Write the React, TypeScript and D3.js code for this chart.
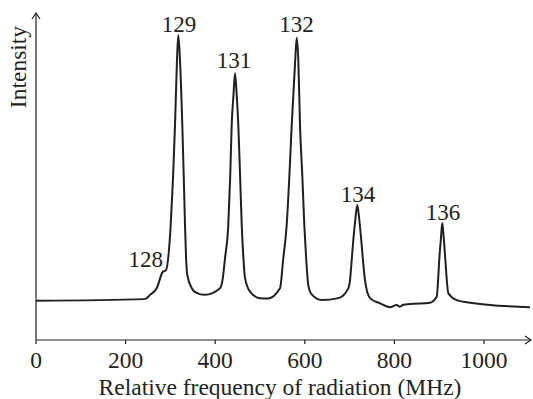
import React from "react";
import * as d3 from "d3";

// Spectrum samples: frequency (MHz) and intensity (arbitrary units, 0-100)
const freq = [
  0, 243, 254.5, 269.4, 282.8, 290.2, 300.7, 306.0, 310.3, 314.7, 317.6, 321.4, 326.6, 329.8, 332.6, 335.0,
  337.7, 347.5, 357, 377.2,
  410.7, 416.3, 421.9, 429.2, 433.5, 436.8, 440.8, 444.2, 448, 451.6, 455.6, 459.2, 463, 466.5, 477.7,
  500, 517.9,
  544.6, 552, 559.6, 565.5, 570.8, 578.6, 581.9, 585.5, 589.3, 594.5, 598.9, 603, 607.8, 615, 637.7, 674.8,
  697.1, 700.9, 705, 708.3, 712.7, 717.2, 721.7, 726, 729.5, 734.4, 745.5,
  767.9, 790.2, 805.1, 812.5, 818.5, 834.8, 879.5,
  894.4, 898.4, 900.3, 903.6, 905.3, 906.9, 908.5, 910.5, 913.5, 915.8, 920.3, 939.1, 968.8, 1102.7,
];
const intensity = [
  12.0, 12.5, 13.8, 15.8, 20.8, 21.4, 35.2, 50.0, 65.7, 85.6, 93.3, 85.6, 65.7, 50.0, 35.2, 25.0,
  19.9, 15.9, 14.5, 13.8,
  15.8, 18.3, 25.0, 35.2, 50.0, 65.7, 74.9, 81.6, 74.9, 65.7, 50.0, 35.2, 25.0, 19.0, 14.8,
  12.8, 12.7,
  15.8, 25.0, 35.2, 50.0, 65.7, 85.6, 92.4, 85.6, 65.7, 50.0, 35.2, 25.0, 16.8, 14.0, 12.2, 12.8,
  15.8, 18.3, 25.0, 30.6, 36.7, 41.3, 36.7, 30.6, 25.0, 18.3, 12.8,
  11.2, 10.0, 10.7, 10.2, 10.7, 11.0, 11.4,
  13.2, 20.4, 25.0, 30.6, 33.8, 35.7, 33.8, 30.6, 25.0, 20.4, 14.3, 12.2, 11.4, 10.0,
];

// Peak labels (mass numbers) and where they sit
const peakLabels = ["128", "129", "131", "132", "134", "136"];
const peakLabelFreq = [245, 319, 442, 581.5, 718.8, 908.5];
const peakLabelIntensity = [22.4, 94.3, 83.1, 94.3, 42.3, 36.7];

const xTicks = [0, 200, 400, 600, 800, 1000];
const xTitle = "Relative frequency of radiation (MHz)";
const yTitle = "Intensity";

export default function App() {
  const W = 533;
  const H = 399;
  const x = d3.scaleLinear().domain([0, 1000]).range([36, 484]);
  const y = d3.scaleLinear().domain([0, 100]).range([340, 13]);
  const axisY = y(0);
  const axisX = x(0);
  const xEnd = 531;
  const yTop = 13;

  const pts = freq.map((f, i) => [f, intensity[i]] as [number, number]);
  const line = d3
    .line<[number, number]>()
    .x((d) => x(d[0]))
    .y((d) => y(d[1]))
    .curve(d3.curveMonotoneX);

  const font = "'Liberation Serif', 'Times New Roman', serif";
  const ink = "#231f20";

  return (
    <svg
      width={W}
      height={H}
      style={{ position: "absolute", left: 0, top: 0, background: "#fff" }}
      fontFamily={font}
    >
      <rect width={W} height={H} fill="#fff" />
      {/* axes */}
      <line x1={axisX} y1={axisY} x2={xEnd} y2={axisY} stroke={ink} strokeWidth={1.2} />
      <polyline
        points={`${xEnd - 6},${axisY - 4} ${xEnd},${axisY} ${xEnd - 6},${axisY + 4}`}
        fill="none"
        stroke={ink}
        strokeWidth={1.2}
      />
      <line x1={axisX} y1={axisY} x2={axisX} y2={yTop} stroke={ink} strokeWidth={1.2} />
      <polyline
        points={`${axisX - 4},${yTop + 6} ${axisX},${yTop} ${axisX + 4},${yTop + 6}`}
        fill="none"
        stroke={ink}
        strokeWidth={1.2}
      />
      {xTicks.map((t) => (
        <g key={t}>
          <line x1={x(t)} x2={x(t)} y1={axisY} y2={axisY + 4} stroke={ink} strokeWidth={1.2} />
          <text x={x(t)} y={368} textAnchor="middle" fontSize={23.5} fill={ink}>
            {t}
          </text>
        </g>
      ))}
      <text x={280} y={395} textAnchor="middle" fontSize={23.5} fill={ink}>
        {xTitle}
      </text>
      <text
        transform={`translate(26,67) rotate(-90)`}
        textAnchor="middle"
        fontSize={23.5}
        fill={ink}
      >
        {yTitle}
      </text>
      {/* spectrum */}
      <path d={line(pts) || ""} fill="none" stroke={ink} strokeWidth={2} strokeLinejoin="round" />
      {peakLabels.map((l, i) => (
        <text
          key={l}
          x={x(peakLabelFreq[i])}
          y={y(peakLabelIntensity[i])}
          textAnchor="middle"
          fontSize={23}
          fill={ink}
        >
          {l}
        </text>
      ))}
    </svg>
  );
}
